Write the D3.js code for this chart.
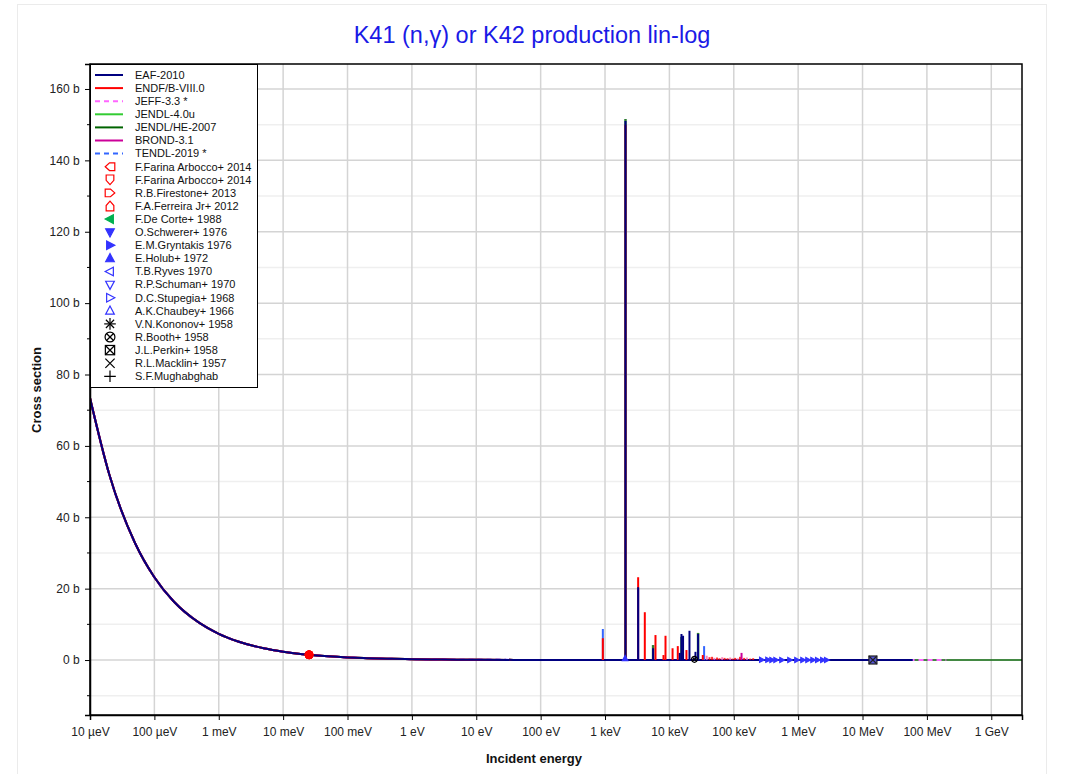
<!DOCTYPE html>
<html><head><meta charset="utf-8">
<script src="https://cdn.jsdelivr.net/npm/d3@7/dist/d3.min.js"></script>
<style>body{margin:0;background:#fff;} text{font-family:"Liberation Sans",Arial,sans-serif;}</style>
</head><body>
<svg id="c" width="1067" height="774"></svg>
<script>
// ---------- data ----------
const xTickValues = [1e-5,1e-4,1e-3,1e-2,1e-1,1,10,100,1e3,1e4,1e5,1e6,1e7,1e8,1e9];
const xTickLabels = ["10 µeV","100 µeV","1 meV","10 meV","100 meV","1 eV","10 eV","100 eV","1 keV","10 keV","100 keV","1 MeV","10 MeV","100 MeV","1 GeV"];
const yTickValues = [0,20,40,60,80,100,120,140,160];
const yTickLabels = ["0 b","20 b","40 b","60 b","80 b","100 b","120 b","140 b","160 b"];
const yMinorValues = [-10,10,30,50,70,90,110,130,150];

// smooth (1/v + background) part, energies in eV, cross sections in b
const curveE  = [1e-5,2e-5,5e-5,1e-4,2e-4,5e-4,1e-3,2e-3,5e-3,1e-2,2e-2,5e-2,0.1,0.2,0.5,1,2,5,10,100,1e3,1e4,1e5,1e6,2e7,6e7,2e8,3e9];
const curveXS = [73.4,51.9,32.8,23.2,16.4,10.4,7.34,5.19,3.28,2.32,1.64,1.04,0.73,0.52,0.33,0.23,0.16,0.10,0.07,0.03,0.01,0.01,0.02,0.005,0.002,0.002,0.001,0.001];

// resonance peaks (energy eV, peak b)
const resE      = [925,2080,3270,4150,5580,6080,8100,8700,11200,13500,14500,15400,16300,18400,20500,25400,27900,33000,34600,132000];
const eafPeak   = [0,151,20.4,0,3.3,0,0,0,0,0,2.0,7.3,6.8,0,8.2,2.3,7.3,0,0,0];
const endfPeak  = [6.1,150,23.2,13.4,0,7.0,1.4,6.8,3.3,3.9,0,0,0,2.8,0,0,0,1.4,0,0];
const tendlPeak = [8.7,150,20,0,0,0,0,0,0,0,0,0,0,0,0,0,0,0,3.9,0];
const jhePeak   = [0,151.6,0,0,4.2,0,0,0,0,0,0,6.5,0,0,0,0,7.6,0,0,0];
const brondPeak = [0,0,0,0,0,0,0,0,0,0,0,0,0,0,0,0,0,0,0,2.0];
// small unresolved structure
const smallE    = [38000,42000,46000,50000,55000,60000,66000,72000,80000,88000,96000,105000,115000,125000,145000,160000,180000,200000];
const smallXS   = [1.2,0.8,0.9,0.6,0.7,0.5,0.8,0.6,0.5,0.7,0.4,0.6,0.5,0.9,0.6,0.7,0.4,0.5];

const libNames  = ["EAF-2010","ENDF/B-VIII.0","JEFF-3.3 *","JENDL-4.0u","JENDL/HE-2007","BROND-3.1","TENDL-2019 *"];
const libColors = ["#000080","#ff0000","#ff66ff","#33cc33","#006400","#cc0099","#3366ff"];
const libDash   = [null,null,"5,4",null,null,null,"5,4"];
const libEnd    = [6e7,2e7,2e8,2e7,3e9,2e7,1.5e8];

const expNames = ["F.Farina Arbocco+ 2014","F.Farina Arbocco+ 2014","R.B.Firestone+ 2013","F.A.Ferreira Jr+ 2012","F.De Corte+ 1988","O.Schwerer+ 1976","E.M.Gryntakis 1976","E.Holub+ 1972","T.B.Ryves 1970","R.P.Schuman+ 1970","D.C.Stupegia+ 1968","A.K.Chaubey+ 1966","V.N.Kononov+ 1958","R.Booth+ 1958","J.L.Perkin+ 1958","R.L.Macklin+ 1957","S.F.Mughabghab"];
const expSymbols = ["houseL","houseD","houseR","houseU","triLf","triDf","triRf","triUf","triL","triD","triR","triU","aster","circX","sqX","cross","plus"];
const expColors = ["#ff0000","#ff0000","#ff0000","#ff0000","#00b050","#3333ff","#3333ff","#3333ff","#3333ff","#3333ff","#3333ff","#3333ff","#000000","#000000","#000000","#000000","#000000"];

// measured points
const thermalE = [0.0253,0.0253,0.0253,0.0253];
const thermalXS = [1.46,1.50,1.45,1.48];
const gryE  = [270000,337000,390000,450000,556000,740000,950000,1180000,1410000,1690000,2000000,2400000,2760000];
const gryXS = [0.05,0.05,0.04,0.04,0.04,0.03,0.03,0.03,0.03,0.02,0.02,0.02,0.02];
const boothE = [24500], boothXS = [0.2];
const perkinE = [14.5e6], perkinXS = [0.01];
const holubE = [2050], holubXS = [0.4];

// ---------- drawing ----------
const svg = d3.select("#c");
const L=90, R=1022, T=64, B=715;
const x = d3.scaleLog().domain([1e-5,3e9]).range([L,R]);
const y = d3.scaleLinear().domain([-15.4,167]).range([B,T]);

svg.append("rect").attr("x",17.5).attr("y",4.5).attr("width",1029).attr("height",770).attr("fill","#fff").attr("stroke","#ebebeb");

svg.append("text").attr("x",532).attr("y",43).attr("text-anchor","middle").attr("font-size",23.5).attr("fill","#1a1ae6").text("K41 (n,γ) or K42 production lin-log");

const g = svg.append("g");
// grid
g.selectAll(".ymin").data(yMinorValues).join("line").attr("x1",L).attr("x2",R).attr("y1",d=>y(d)).attr("y2",d=>y(d)).attr("stroke","#efefef").attr("stroke-width",1.5);
g.selectAll(".ymaj").data(yTickValues).join("line").attr("x1",L).attr("x2",R).attr("y1",d=>y(d)).attr("y2",d=>y(d)).attr("stroke","#d4d4d4").attr("stroke-width",1.5);
g.selectAll(".xg").data(xTickValues).join("line").attr("x1",d=>x(d)).attr("x2",d=>x(d)).attr("y1",T).attr("y2",B).attr("stroke","#d4d4d4").attr("stroke-width",1.5);

svg.append("clipPath").attr("id","clp").append("rect").attr("x",L).attr("y",T).attr("width",R-L).attr("height",B-T);
const pg = svg.append("g").attr("clip-path","url(#clp)");

const pts = curveE.map((e,i)=>[e,curveXS[i]]);
const line = d3.line().x(d=>x(d[0])).y(d=>y(d[1])).curve(d3.curveMonotoneX);
// draw order: JENDL/HE, JENDL-4, JEFF, TENDL, BROND, ENDF, EAF
const order = [4,3,2,6,5,1,0];
order.forEach(k=>{
  const data = pts.filter(p=>p[0]<=libEnd[k]);
  pg.append("path").datum(data).attr("d",line).attr("fill","none").attr("stroke",libColors[k]).attr("stroke-width",2)
    .attr("stroke-dasharray",libDash[k]).attr("opacity",k===4?0.7:1);
});

// small structure
smallE.forEach((e,i)=>{
  pg.append("line").attr("x1",x(e)).attr("x2",x(e)).attr("y1",y(0)).attr("y2",y(smallXS[i])).attr("stroke",i%3===0?"#ff66aa":"#ff0000").attr("stroke-width",2).attr("opacity",0.8);
});

function spikes(peaks,color,w){
  resE.forEach((e,i)=>{ if(peaks[i]>0) pg.append("line").attr("x1",x(e)).attr("x2",x(e)).attr("y1",y(0)).attr("y2",y(peaks[i])).attr("stroke",color).attr("stroke-width",w); });
}
spikes(tendlPeak,"#3366ff",2);
spikes(jhePeak,"#2e7d32",2.5);
spikes(brondPeak,"#cc0099",2);
spikes(endfPeak,"#ff0000",2);
spikes(eafPeak,"#000080",2);

// symbols
function sym(sel,type,color,s){
  const a=s;
  const house="M"+(-a*0.8)+","+a+"L"+(a*0.8)+","+a+"L"+(a*0.8)+","+(-a*0.1)+"L0,"+(-a)+"L"+(-a*0.8)+","+(-a*0.1)+"Z";
  const tri="M0,"+(-a)+"L"+(a*0.9)+","+(a*0.7)+"L"+(-a*0.9)+","+(a*0.7)+"Z";
  const rot={U:0,R:90,D:180,L:270,Lf:270,Rf:90,Df:180,Uf:0};
  if(type.startsWith("house")){
    const d=type.slice(5);
    sel.append("path").attr("d",house).attr("transform","rotate("+rot[d]+")").attr("fill","none").attr("stroke",color).attr("stroke-width",1.2);
  } else if(type.startsWith("tri")){
    const d=type.slice(3); const filled=d.endsWith("f");
    sel.append("path").attr("d",tri).attr("transform","rotate("+rot[d]+")").attr("fill",filled?color:"none").attr("stroke",color).attr("stroke-width",1.2);
  } else if(type==="aster"){
    [0,45,90,135].forEach(r=>sel.append("line").attr("x1",0).attr("y1",-a).attr("x2",0).attr("y2",a).attr("transform","rotate("+r+")").attr("stroke",color).attr("stroke-width",1.2));
  } else if(type==="circX"){
    sel.append("circle").attr("r",a*0.85).attr("fill","none").attr("stroke",color).attr("stroke-width",1.2);
    [45,135].forEach(r=>sel.append("line").attr("x1",0).attr("y1",-a*0.85).attr("x2",0).attr("y2",a*0.85).attr("transform","rotate("+r+")").attr("stroke",color).attr("stroke-width",1.2));
  } else if(type==="sqX"){
    sel.append("rect").attr("x",-a*0.8).attr("y",-a*0.8).attr("width",a*1.6).attr("height",a*1.6).attr("fill","none").attr("stroke",color).attr("stroke-width",1.2);
    sel.append("path").attr("d","M"+(-a*0.8)+","+(-a*0.8)+"L"+(a*0.8)+","+(a*0.8)+"M"+(a*0.8)+","+(-a*0.8)+"L"+(-a*0.8)+","+(a*0.8)).attr("stroke",color).attr("stroke-width",1.2);
  } else if(type==="cross"){
    sel.append("path").attr("d","M"+(-a*0.8)+","+(-a*0.8)+"L"+(a*0.8)+","+(a*0.8)+"M"+(a*0.8)+","+(-a*0.8)+"L"+(-a*0.8)+","+(a*0.8)).attr("stroke",color).attr("stroke-width",1.2);
  } else if(type==="plus"){
    sel.append("path").attr("d","M0,"+(-a)+"V"+a+"M"+(-a)+",0H"+a).attr("stroke",color).attr("stroke-width",1.2);
  }
}

// measured data on plot
const dg = svg.append("g");
thermalE.forEach((e,i)=>{ dg.append("circle").attr("cx",x(e)).attr("cy",y(thermalXS[i])).attr("r",4).attr("fill","#ff0000").attr("stroke","#ff0000"); });
gryE.forEach((e,i)=>{ sym(dg.append("g").attr("transform","translate("+x(e)+","+y(gryXS[i])+")"),"triRf","#3333ff",2.8); });
holubE.forEach((e,i)=>{ sym(dg.append("g").attr("transform","translate("+x(e)+","+y(holubXS[i])+")"),"triUf","#3333ff",3); });
boothE.forEach((e,i)=>{ sym(dg.append("g").attr("transform","translate("+x(e)+","+y(boothXS[i])+")"),"circX","#000",3.5); });
perkinE.forEach((e,i)=>{
  const gg=dg.append("g").attr("transform","translate("+x(e)+","+y(perkinXS[i])+")");
  gg.append("rect").attr("x",-4).attr("y",-4).attr("width",8).attr("height",8).attr("fill","#5555dd");
  sym(gg,"sqX","#222",5);
});

// frame and axes
svg.append("rect").attr("x",L).attr("y",T).attr("width",R-L).attr("height",B-T).attr("fill","none").attr("stroke","#000").attr("stroke-width",1.5);
const xAxis = d3.axisBottom(x).tickValues(xTickValues).tickFormat((d,i)=>xTickLabels[i]).tickSizeOuter(0).tickSize(5);
const xa = svg.append("g").attr("transform","translate(0,"+B+")").call(xAxis);
xa.select(".domain").attr("stroke-width",1.5);
xa.selectAll("text").attr("font-size",12).attr("fill","#222").attr("dy","1.1em");
const yAxis = d3.axisLeft(y).tickValues(yTickValues).tickFormat((d,i)=>yTickLabels[i]).tickSizeOuter(0).tickSize(5);
const ya = svg.append("g").attr("transform","translate("+L+",0)").call(yAxis);
ya.select(".domain").attr("stroke-width",1.5);
ya.selectAll("text").attr("font-size",12).attr("fill","#222").attr("dx","-0.2em");
svg.append("g").selectAll("line").data(yMinorValues).join("line").attr("x1",L-3).attr("x2",L).attr("y1",d=>y(d)).attr("y2",d=>y(d)).attr("stroke","#000");

svg.append("text").attr("x",534).attr("y",763).attr("text-anchor","middle").attr("font-size",13).attr("font-weight","bold").attr("fill","#111").text("Incident energy");
svg.append("text").attr("transform","translate(41,390) rotate(-90)").attr("text-anchor","middle").attr("font-size",13).attr("font-weight","bold").attr("fill","#111").text("Cross section");

// legend
const lg = svg.append("g");
lg.append("rect").attr("x",90.5).attr("y",64.5).attr("width",167).attr("height",323).attr("fill","#fff").attr("stroke","#000").attr("stroke-width",1);
const step = 13.1;
libNames.forEach((n,i)=>{
  const yy = 75 + i*step;
  lg.append("line").attr("x1",95).attr("x2",123).attr("y1",yy).attr("y2",yy).attr("stroke",libColors[i]).attr("stroke-width",2).attr("stroke-dasharray",libDash[i]);
  lg.append("text").attr("x",135).attr("y",yy).attr("dy","0.35em").attr("font-size",11).attr("fill","#111").text(n);
});
expNames.forEach((n,i)=>{
  const yy = 75 + (i+7)*step;
  const big = ["aster","circX","sqX","cross","plus"].includes(expSymbols[i]);
  sym(lg.append("g").attr("transform","translate(110,"+yy+")"),expSymbols[i],expColors[i],big?5.8:4.8);
  lg.append("text").attr("x",135).attr("y",yy).attr("dy","0.35em").attr("font-size",11).attr("fill","#111").text(n);
});
</script>
</body></html>
